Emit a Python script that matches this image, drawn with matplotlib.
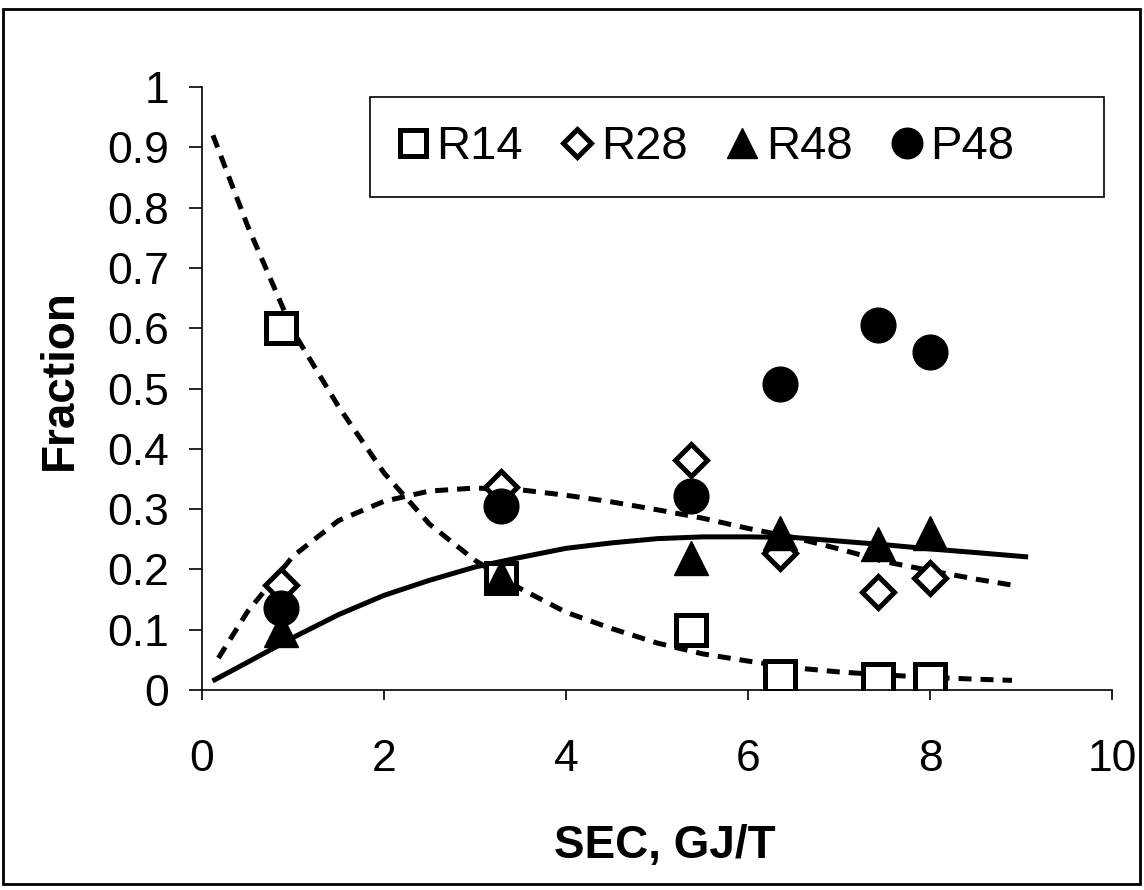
import numpy as np
import matplotlib
matplotlib.use("Agg")
import matplotlib.pyplot as plt
from matplotlib.patches import Rectangle

plt.rcParams['font.family'] = ['Liberation Sans', 'DejaVu Sans']

# SEC values (GJ/T) for each sample
sec = [0.87, 3.29, 5.37, 6.35, 7.43, 8.0]

r14 = [0.60, 0.186, 0.10, 0.023, 0.018, 0.018]
r28 = [0.174, 0.337, 0.382, 0.227, 0.163, 0.186]
r48 = [0.10, 0.188, 0.219, 0.26, 0.242, 0.26]
p48 = [0.136, 0.306, 0.321, 0.508, 0.605, 0.561]

# trend curves
trend_x14 = [0.12, 0.5, 1.0, 1.5, 2.0, 2.5, 3.0, 3.5, 4.0, 4.5, 5.0, 5.5, 6.0, 6.5, 7.0, 7.5, 8.0, 8.5, 8.9]
trend_r14 = [0.92, 0.77, 0.595, 0.47, 0.36, 0.275, 0.215, 0.168, 0.129, 0.102, 0.078, 0.060, 0.048,
             0.037, 0.030, 0.025, 0.021, 0.018, 0.016]
trend_x28 = [0.18, 0.5, 1.0, 1.5, 2.0, 2.5, 3.0, 3.5, 4.0, 4.5, 5.0, 5.5, 6.0, 6.5, 7.0, 7.5, 8.0, 8.5, 8.9]
trend_r28 = [0.053, 0.130, 0.222, 0.281, 0.313, 0.330, 0.335, 0.332, 0.323, 0.312, 0.299, 0.285, 0.268,
             0.253, 0.234, 0.213, 0.198, 0.184, 0.174]
trend_x48 = [0.14, 0.5, 1.0, 1.5, 2.0, 2.5, 3.0, 3.5, 4.0, 4.5, 5.0, 5.5, 6.0, 6.5, 7.0, 7.5, 8.0, 8.5, 9.05]
trend_r48 = [0.017, 0.046, 0.087, 0.125, 0.157, 0.182, 0.204, 0.220, 0.235, 0.244, 0.251, 0.254, 0.254,
             0.253, 0.247, 0.241, 0.234, 0.228, 0.221]

fig = plt.figure(figsize=(11.44, 8.9), dpi=100)
ax = fig.add_axes([0.1766, 0.2247, 0.7955, 0.6775])

dash = (0, (2.6, 1.8))
ax.plot(trend_x14, trend_r14, color='black', lw=3.6, ls=dash)
ax.plot(trend_x28, trend_r28, color='black', lw=3.6, ls=dash)
ax.plot(trend_x48, trend_r48, color='black', lw=3.6)

ax.plot(sec, r14, ls='none', marker='s', ms=22, mfc='white', mec='black', mew=3.6, label='R14')
ax.plot(sec, r28, ls='none', marker='D', ms=16.5, mfc='white', mec='black', mew=3.6, label='R28')
ax.plot(sec, r48, ls='none', marker='^', ms=24, mfc='black', mec='black', label='R48')
ax.plot(sec, p48, ls='none', marker='o', ms=25, mfc='black', mec='black', label='P48')

ax.set_xlim(0, 10)
ax.set_ylim(0, 1)
ax.set_xticks(np.arange(0, 11, 2))
ax.set_yticks(np.round(np.arange(0, 1.01, 0.1), 1))
ax.set_yticklabels(['0', '0.1', '0.2', '0.3', '0.4', '0.5', '0.6', '0.7', '0.8', '0.9', '1'])
ax.spines['top'].set_visible(False)
ax.spines['right'].set_visible(False)
ax.spines['left'].set_linewidth(1.2)
ax.spines['bottom'].set_linewidth(1.2)
ax.tick_params(axis='y', direction='out', length=9.5, width=1.2, labelsize=32, pad=14)
ax.tick_params(axis='x', direction='out', length=7, width=1.2, labelsize=32, pad=28)

ax.set_xlabel('SEC, GJ/T', fontsize=33, fontweight='bold')
ax.set_ylabel('Fraction', fontsize=33, fontweight='bold')
ax.xaxis.set_label_coords(0.509, -0.222)
ax.yaxis.set_label_coords(-0.132, 0.515)

# legend box drawn separately so entries can sit to the left like in the original
ax.add_patch(Rectangle((0.1846, 0.818), 0.8066, 0.165, transform=ax.transAxes,
                       facecolor='white', edgecolor='black', lw=1.2, clip_on=False, zorder=4))
leg = ax.legend(loc='center left', bbox_to_anchor=(0.211, 0.9005), ncol=4,
                fontsize=34, frameon=False, handletextpad=0.1, columnspacing=0.75,
                handlelength=0.8, markerscale=0.88, borderpad=0, borderaxespad=0)
leg.set_zorder(5)

fig.patches.append(Rectangle((0.0026, 0.0067), 0.994, 0.983, transform=fig.transFigure,
                             fill=False, edgecolor='black', lw=2))

fig.savefig('out.png', dpi=100)
